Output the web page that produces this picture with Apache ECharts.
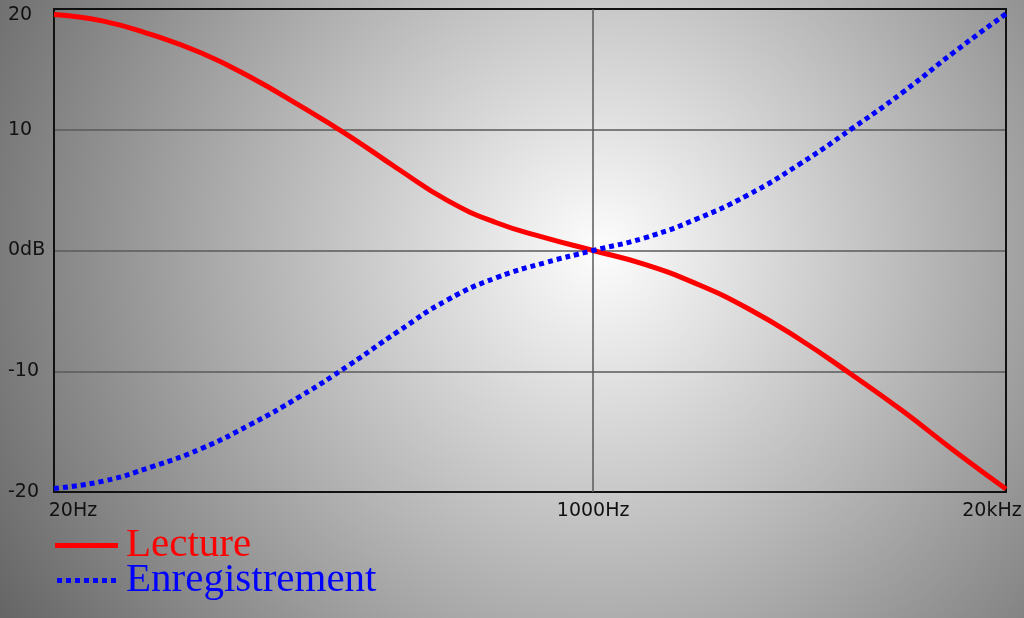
<!DOCTYPE html>
<html>
<head>
<meta charset="utf-8">
<script src="https://cdn.jsdelivr.net/npm/echarts@6/dist/echarts.min.js"></script>
<style>
html,body{margin:0;padding:0;}
#c{width:1024px;height:618px;}
</style>
</head>
<body>
<div id="c"></div>
<script>
// Frequencies (Hz)
const freqs = [20, 28.6, 40.8, 58.3, 83.3, 119, 170, 243, 347, 496, 708, 1000, 1454, 2115, 3075, 4472, 6503, 9457, 13753, 20000];
// Playback (Lecture) response, dB
const lecture = [19.55, 19.0, 17.85, 16.35, 14.35, 12.0, 9.5, 6.75, 4.15, 2.3, 1.05, 0, -1.15, -2.75, -4.8, -7.35, -10.25, -13.3, -16.6, -19.75];
// Recording (Enregistrement) response, dB
const enregistrement = [-19.7, -19.1, -17.9, -16.4, -14.4, -12.1, -9.5, -6.7, -4.1, -2.25, -1.0, 0, 1.05, 2.6, 4.6, 7.15, 10.05, 13.1, 16.45, 19.6];
// Series names
const seriesNames = ['Lecture', 'Enregistrement'];
// Axis labels
const xTickLabels = {20: '20Hz', 1000: '1000Hz', 20000: '20kHz'};
const gridFreq = 1000;
const yTicks = [-20, -10, 0, 10, 20];

const chart = echarts.init(document.getElementById('c'));
const pairs = (vals) => freqs.map((f, i) => [f, vals[i]]);
const FONT = '"DejaVu Sans", sans-serif';

// dotted legend icon: 7 small squares
let dotPath = 'path://';
for (let i = 0; i < 7; i++) { const x0 = i * 9; dotPath += 'M' + x0 + ',0H' + (x0 + 5) + 'V5H' + x0 + 'Z'; }

const option = {
  animation: false,
  backgroundColor: {
    type: 'radial', x: 0.586, y: 0.405, r: 1.13,
    colorStops: [{offset: 0, color: '#fdfdfd'}, {offset: 1, color: '#666666'}]
  },
  grid: {
    left: 54, right: 18, top: 9, bottom: 126,
    show: false,
    outerBoundsMode: 'none'
  },
  legend: {
    orient: 'vertical',
    left: 55, top: 525, padding: 0,
    itemWidth: 63, itemHeight: 5, itemGap: -6,
    textStyle: {fontFamily: '"Liberation Serif", serif', fontSize: 41, padding: [0, 0, 0, 3]},
    data: [
      {name: seriesNames[0], icon: 'path://M0,0H63V5H0Z', textStyle: {color: '#ff0000'}},
      {name: seriesNames[1], icon: dotPath, textStyle: {color: '#0000ff'}}
    ],
    selectedMode: false
  },
  xAxis: [{
    type: 'log', logBase: 10, min: 20, max: 20000,
    axisLine: {show: true, onZero: false, lineStyle: {color: '#111', width: 2}},
    axisTick: {show: false},
    splitLine: {show: false},
    axisLabel: {
      showMinLabel: true, showMaxLabel: true,
      margin: 10,
      color: '#111', fontSize: 19, fontFamily: FONT,
      formatter: function (v) {
        for (const k in xTickLabels) {
          if (Math.abs(v - Number(k)) < 0.5) {
            if (Number(k) === 20) return '{a|' + xTickLabels[k] + '}';
            if (Number(k) === 20000) return '{b|' + xTickLabels[k] + '}';
            return xTickLabels[k];
          }
        }
        return '';
      },
      rich: {
        a: {padding: [0, 0, 0, 38], color: '#111', fontSize: 19, fontFamily: FONT},
        b: {padding: [0, 28, 0, 0], color: '#111', fontSize: 19, fontFamily: FONT}
      }
    }
  }, {
    type: 'log', logBase: 10, min: 20, max: 20000, position: 'top',
    axisLine: {show: true, onZero: false, lineStyle: {color: '#111', width: 2}},
    axisTick: {show: false}, axisLabel: {show: false}, splitLine: {show: false}
  }],
  yAxis: [{
    type: 'value', min: yTicks[0], max: yTicks[yTicks.length - 1], interval: 10,
    axisLine: {show: true, onZero: false, lineStyle: {color: '#111', width: 2}},
    axisTick: {show: false},
    splitLine: {show: true, lineStyle: {color: '#5a5a5a', width: 1.5}},
    axisLabel: {
      align: 'left', margin: 46,
      color: '#111', fontSize: 19, fontFamily: FONT,
      formatter: function (v) {
        if (v === 0) return '0dB';
        if (v === 20) return '{t|20}';
        return String(v);
      },
      rich: {t: {padding: [12, 0, 0, 0], color: '#111', fontSize: 19, fontFamily: FONT}}
    }
  }, {
    type: 'value', min: yTicks[0], max: yTicks[yTicks.length - 1], interval: 10, position: 'right',
    axisLine: {show: true, onZero: false, lineStyle: {color: '#111', width: 2}},
    axisTick: {show: false}, axisLabel: {show: false}, splitLine: {show: false}
  }],
  series: [
    {
      name: seriesNames[0], type: 'line', data: pairs(lecture),
      symbol: 'none', smooth: 0.5, z: 3,
      lineStyle: {color: '#ff0000', width: 5},
      itemStyle: {color: '#ff0000'}
    },
    {
      name: seriesNames[1], type: 'line', data: pairs(enregistrement),
      symbol: 'none', smooth: 0.5, z: 4,
      lineStyle: {color: '#0000ff', width: 5, type: [5, 4], cap: 'butt'},
      itemStyle: {color: '#0000ff'},
      markLine: {
        silent: true, symbol: 'none', label: {show: false}, z: 1,
        lineStyle: {color: '#5a5a5a', width: 1.5, type: 'solid'},
        data: [{xAxis: gridFreq}]
      }
    }
  ]
};
chart.setOption(option);
</script>
</body>
</html>
